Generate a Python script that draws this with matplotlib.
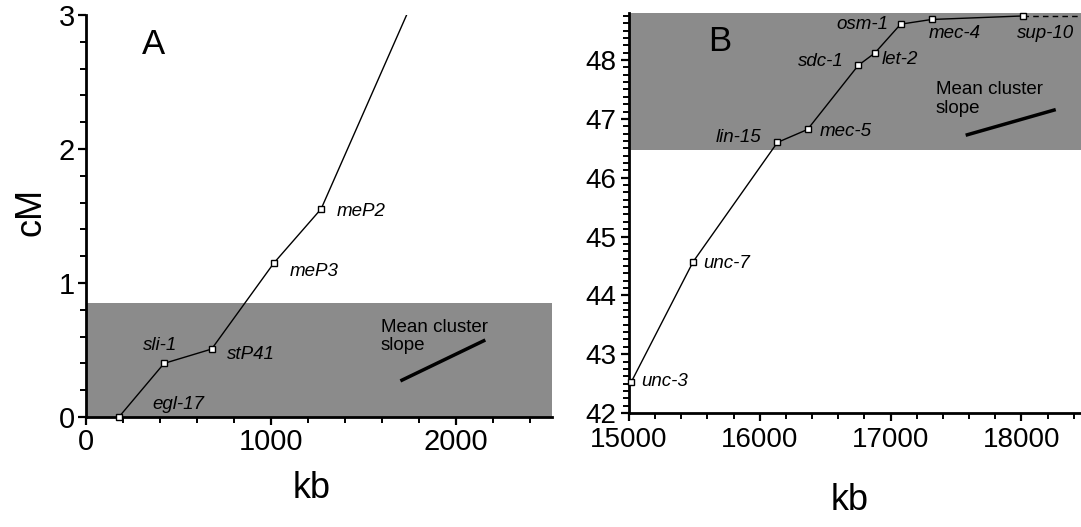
import matplotlib
matplotlib.use("Agg")
import matplotlib.pyplot as plt
from matplotlib.ticker import MultipleLocator

plt.rcParams['font.family'] = ['Liberation Sans', 'DejaVu Sans']

# ---- Panel A data ----
a_genes = ["egl-17", "sli-1", "stP41", "meP3", "meP2"]
a_kb = [178, 422, 679, 1015, 1271]
a_cm = [0.0, 0.40, 0.507, 1.148, 1.553]
a_tail_kb = [1271, 1733]          # line continues off the top
a_tail_cm = [1.553, 3.0]
a_shade_top = 0.85
a_slope_kb = [1708, 2150]
a_slope_cm = [0.275, 0.569]

# ---- Panel B data ----
b_genes = ["unc-3", "unc-7", "lin-15", "mec-5", "sdc-1", "let-2", "osm-1", "mec-4", "sup-10"]
b_kb = [15018, 15490, 16135, 16365, 16753, 16880, 17077, 17314, 18015]
b_cm = [42.53, 44.57, 46.60, 46.82, 47.91, 48.12, 48.61, 48.69, 48.75]
b_shade_bottom = 46.47
b_slope_kb = [17587, 18250]
b_slope_cm = [46.73, 47.15]

W, H = 1081, 527
fig = plt.figure(figsize=(W / 100, H / 100), dpi=100)

def px_axes(left, top, right, bottom):
    return fig.add_axes([left / W, (H - bottom) / H, (right - left) / W, (bottom - top) / H])

shade = '#8b8b8b'
label_fs = 13.5

def style(ax, fs):
    for s in ['top', 'right']:
        ax.spines[s].set_visible(False)
    for s in ['left', 'bottom']:
        ax.spines[s].set_linewidth(2.0)
    ax.tick_params(which='major', direction='out', length=6, width=1.6, labelsize=fs, pad=2)
    ax.tick_params(which='minor', direction='out', length=4, width=1.4)

# ================= Panel A =================
axA = px_axes(86, 15, 552, 417)
axA.set_xlim(0, 2519)
axA.set_ylim(0, 3)
axA.axhspan(0, a_shade_top, color=shade, lw=0, zorder=0)
axA.plot(a_tail_kb, a_tail_cm, color='black', lw=1.0, zorder=2, clip_on=True)
axA.plot(a_kb, a_cm, color='black', lw=1.0, marker='s', ms=5, mfc='white', mec='black',
         mew=1.0, zorder=3, clip_on=False)
axA.plot(a_slope_kb, a_slope_cm, color='black', lw=2.5, zorder=2)
axA.xaxis.set_major_locator(MultipleLocator(1000))
axA.xaxis.set_minor_locator(MultipleLocator(200))
axA.yaxis.set_major_locator(MultipleLocator(1))
axA.yaxis.set_minor_locator(MultipleLocator(0.2))
style(axA, 21)

a_label_pos = {
    "egl-17": (361, 0.095, 'left'),
    "sli-1": (307, 0.537, 'left'),
    "stP41": (760, 0.47, 'left'),
    "meP3": (1100, 1.086, 'left'),
    "meP2": (1353, 1.535, 'left'),
}
for g in a_genes:
    x, y, ha = a_label_pos[g]
    axA.text(x, y, g, fontsize=label_fs, style='italic', ha=ha, va='center', zorder=4)
axA.text(1593, 0.735, "Mean cluster\nslope", fontsize=label_fs, ha='left', va='top',
         linespacing=1.1, zorder=4)
axA.text(365, 2.78, "A", fontsize=25, ha='center', va='center')

# ================= Panel B =================
axB = px_axes(629, 13, 1081, 413)
axB.set_xlim(15000, 18456)
axB.set_ylim(42, 48.8)
axB.axhspan(b_shade_bottom, 48.8, color=shade, lw=0, zorder=0)
axB.plot(b_kb, b_cm, color='black', lw=1.0, marker='s', ms=5, mfc='white', mec='black',
         mew=1.0, zorder=3, clip_on=False)
axB.plot([b_kb[-1], 18456], [b_cm[-1], b_cm[-1]], color='black', lw=1.0, ls=(0, (4, 3)), zorder=2)
axB.plot(b_slope_kb, b_slope_cm, color='black', lw=2.5, zorder=2)
axB.xaxis.set_major_locator(MultipleLocator(1000))
axB.xaxis.set_minor_locator(MultipleLocator(200))
axB.yaxis.set_major_locator(MultipleLocator(1))
axB.yaxis.set_minor_locator(MultipleLocator(0.125))
style(axB, 20)
axB.tick_params(axis='x', which='major', pad=4)
axB.tick_params(axis='y', which='major', pad=3)

b_label_pos = {
    "unc-3": (15094, 42.54, 'left'),
    "unc-7": (15571, 44.55, 'left'),
    "lin-15": (16013, 46.69, 'right'),
    "mec-5": (16459, 46.78, 'left'),
    "sdc-1": (16638, 47.98, 'right'),
    "let-2": (16931, 48.01, 'left'),
    "osm-1": (16982, 48.61, 'right'),
    "mec-4": (17288, 48.45, 'left'),
    "sup-10": (17964, 48.45, 'left'),
}
for g in b_genes:
    x, y, ha = b_label_pos[g]
    axB.text(x, y, g, fontsize=label_fs, style='italic', ha=ha, va='center', zorder=4)
axB.text(17347, 47.64, "Mean cluster\nslope", fontsize=label_fs, ha='left', va='top',
         linespacing=1.1, zorder=4)
axB.text(15694, 48.31, "B", fontsize=25, ha='center', va='center')

# axis titles
fig.text(31 / W, 1 - 212 / H, "cM", fontsize=26, rotation=90, ha='center', va='center')
fig.text(312 / W, 1 - 488 / H, "kb", fontsize=26, ha='center', va='center')
fig.text(850 / W, 1 - 500 / H, "kb", fontsize=26, ha='center', va='center')

fig.savefig("out.png", dpi=100)
